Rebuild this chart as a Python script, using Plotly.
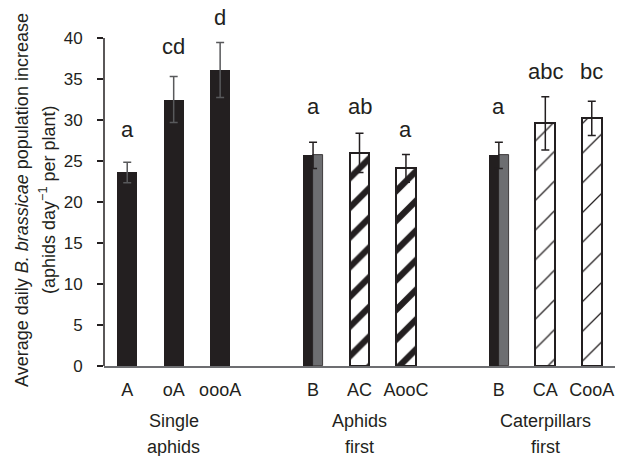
import plotly.graph_objects as go

# ---- data ----
categories = ["A", "oA", "oooA", "B", "AC", "AooC", "B", "CA", "CooA"]
positions = [0, 1, 2, 4, 5, 6, 8, 9, 10]

single_pos = [0, 1, 2]
single_vals = [23.6, 32.5, 36.1]
single_err = [1.25, 2.8, 3.35]

base_pos = [4, 8]
base_vals = [25.7, 25.7]
base_err = [1.6, 1.6]

aphfirst_pos = [5, 6]
aphfirst_vals = [26.0, 24.1]
aphfirst_err = [2.4, 1.7]

catfirst_pos = [9, 10]
catfirst_vals = [29.6, 30.2]
catfirst_err = [3.25, 2.1]

sig_letters = ["a", "cd", "d", "a", "ab", "a", "a", "abc", "bc"]
sig_heights = [28.9, 39.0, 42.5, 31.6, 31.6, 28.8, 31.6, 35.9, 35.9]

group_names = [["Single", "aphids"], ["Aphids", "first"], ["Caterpillars", "first"]]
group_centers = [1, 5, 9]

y_ticks = [0, 5, 10, 15, 20, 25, 30, 35, 40]

# ---- styles ----
DARK = "#231f20"
GREY = "#6d6e71"
FONT = "Liberation Sans, Arial, Helvetica, sans-serif"
BW = 0.43

fig = go.Figure()

fig.add_trace(go.Bar(x=single_pos, y=single_vals, width=BW,
                     marker=dict(color=DARK, line=dict(width=0))))
# B bars: left half dark, right half grey
fig.add_trace(go.Bar(x=base_pos, y=base_vals, width=BW / 2, offset=-BW / 2,
                     marker=dict(color=DARK, line=dict(width=0))))
fig.add_trace(go.Bar(x=base_pos, y=base_vals, width=BW / 2, offset=0,
                     marker=dict(color=GREY, line=dict(color=DARK, width=0.8))))
fig.add_trace(go.Bar(x=aphfirst_pos, y=aphfirst_vals, width=BW,
                     marker=dict(color="white", line=dict(color=DARK, width=2),
                                 pattern=dict(shape="/", size=21, solidity=0.3,
                                              fgcolor=DARK, bgcolor="white", fgopacity=1))))
fig.add_trace(go.Bar(x=catfirst_pos, y=catfirst_vals, width=BW,
                     marker=dict(color="white", line=dict(color=DARK, width=2),
                                 pattern=dict(shape="/", size=21, solidity=0.06,
                                              fgcolor=DARK, bgcolor="white", fgopacity=1))))

# error bars
def add_err(xs, ys, es, color):
    fig.add_trace(go.Scatter(x=xs, y=ys, mode="markers",
                             marker=dict(size=1, opacity=0),
                             error_y=dict(type="data", array=es, visible=True,
                                          color=color, thickness=1.5, width=4)))

add_err(single_pos, single_vals, single_err, "#58595b")
add_err(base_pos, base_vals, base_err, DARK)
add_err(aphfirst_pos, aphfirst_vals, aphfirst_err, DARK)
add_err(catfirst_pos, catfirst_vals, catfirst_err, DARK)

annotations = []
for x, t, h in zip(positions, sig_letters, sig_heights):
    annotations.append(dict(x=x, y=h, xref="x", yref="y", text=t, showarrow=False,
                            font=dict(family=FONT, size=22, color=DARK),
                            xanchor="center", yanchor="middle"))
for x, (l1, l2) in zip(group_centers, group_names):
    annotations.append(dict(x=x, y=-0.1536, xref="x", yref="paper", text=l1, showarrow=False,
                            font=dict(family=FONT, size=18, color=DARK),
                            xanchor="center", yanchor="middle"))
    annotations.append(dict(x=x, y=-0.226, xref="x", yref="paper", text=l2, showarrow=False,
                            font=dict(family=FONT, size=18, color=DARK),
                            xanchor="center", yanchor="middle"))
annotations.append(dict(x=-0.1605, y=0.4637, xref="paper", yref="paper",
                        text="Average daily <i>B. brassicae</i> population increase",
                        textangle=-90, showarrow=False,
                        font=dict(family=FONT, size=18, color=DARK),
                        xanchor="center", yanchor="middle"))
annotations.append(dict(x=-0.1096, y=0.4637, xref="paper", yref="paper",
                        text="(aphids day<sup>\u22121</sup> per plant)",
                        textangle=-90, showarrow=False,
                        font=dict(family=FONT, size=18, color=DARK),
                        xanchor="center", yanchor="middle"))

# page has an 8px body margin, so the figure is drawn 8px smaller than the window
fig.update_layout(
    width=617, height=448,
    margin=dict(l=96, r=10, t=0, b=90),
    paper_bgcolor="white", plot_bgcolor="white",
    barmode="overlay", bargap=0, showlegend=False,
    font=dict(family=FONT, color=DARK),
    annotations=annotations,
    shapes=[dict(type="line", xref="paper", yref="y", x0=0, x1=0, y0=0, y1=40,
                 line=dict(color=DARK, width=1.5))],
)
fig.update_xaxes(range=[-0.5, 10.5], tickvals=positions, ticktext=categories,
                 showline=True, linecolor=GREY, linewidth=1.5, ticks="",
                 showgrid=False, zeroline=False,
                 tickfont=dict(family=FONT, size=18, color=DARK), ticklabelstandoff=7)
fig.update_yaxes(range=[0, 43.66], tickvals=y_ticks, showline=False, ticks="outside",
                 ticklen=6, tickwidth=1.5, tickcolor=DARK, showgrid=False, zeroline=False,
                 tickfont=dict(family=FONT, size=17, color=DARK), ticklabelstandoff=11)

fig.write_html("out.html")
